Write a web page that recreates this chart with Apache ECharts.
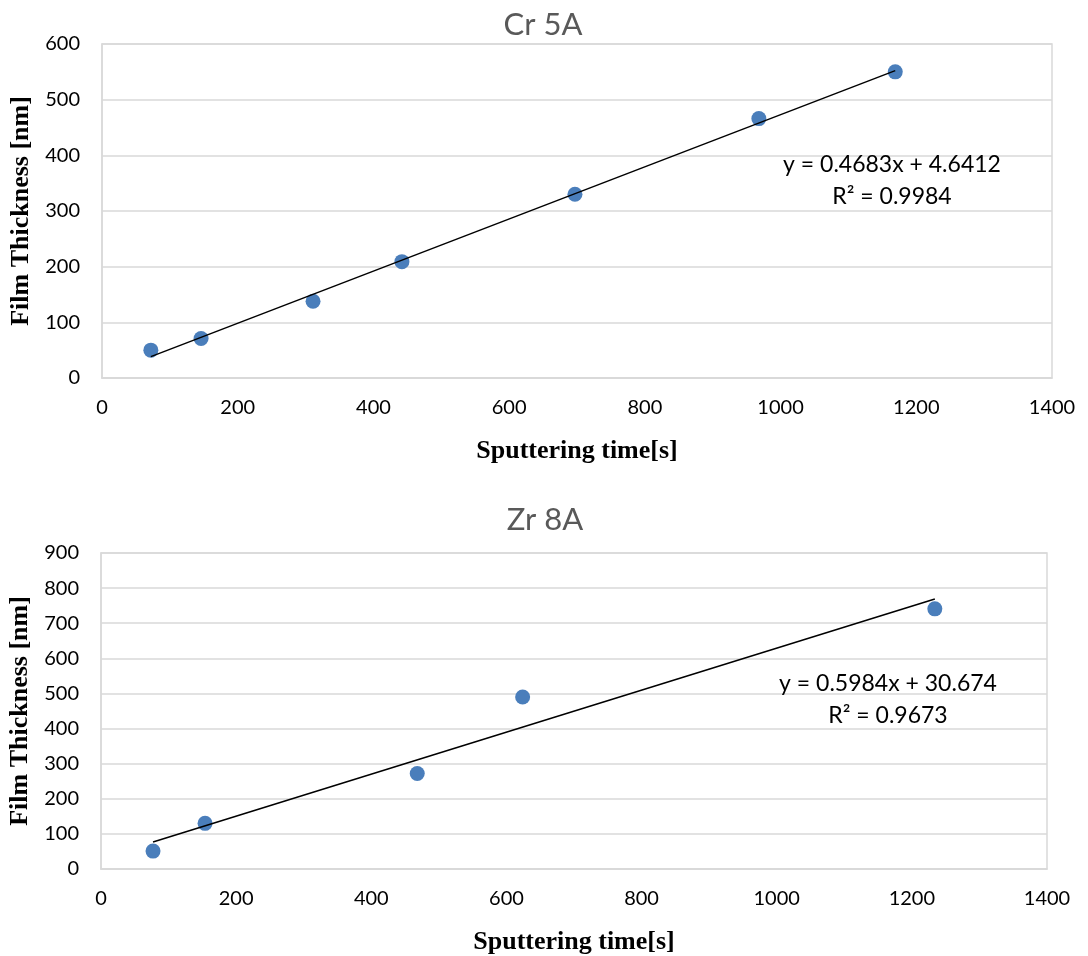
<!DOCTYPE html>
<html>
<head>
<meta charset="utf-8">
<script src="https://cdn.jsdelivr.net/npm/echarts@6/dist/echarts.min.js"></script>
<style>html,body{margin:0;padding:0;background:#fff}#c{width:1088px;height:956px}</style>
</head>
<body>
<div id="c"></div>
<script>
// ---- data ----
const crTime = [72, 146, 311, 442, 697, 968, 1169];
const crThickness = [50, 71, 138, 209, 330, 466, 550];
const crFit = [0.4683, 4.6412];       // slope, intercept
const crR2 = '0.9984';

const zrTime = [77, 154, 468, 624, 1234];
const zrThickness = [51, 130, 272, 490, 741];
const zrFit = [0.5984, 30.674];
const zrR2 = '0.9673';

const xTicks = [0, 1400, 200];
const crYTicks = [0, 600, 100];
const zrYTicks = [0, 900, 100];

const titles = ['Cr 5A', 'Zr 8A'];
const xName = 'Sputtering time[s]';
const yName = 'Film Thickness [nm]';

// ---- build ----
const pts = (xs, ys) => xs.map((x, i) => [x, ys[i]]);
const fitLine = (xs, f) => {
  const a = Math.min(...xs), b = Math.max(...xs);
  return [[a, f[0] * a + f[1]], [b, f[0] * b + f[1]]];
};
const eq = f => 'y = ' + f[0] + 'x + ' + f[1];

const sans = 'Lato, "Open Sans", sans-serif';
const serif = '"Liberation Serif", "DejaVu Serif", serif';
const gridColor = '#d9d9d9';
const blue = '#4a7ebb';

function xAxis(gi) {
  return {
    type: 'value', gridIndex: gi, min: xTicks[0], max: xTicks[1], interval: xTicks[2],
    name: xName, nameLocation: 'middle', nameGap: 60,
    nameTextStyle: { fontFamily: serif, fontWeight: 'bold', fontSize: 26, color: '#000' },
    axisLine: { show: true, lineStyle: { color: gridColor, width: 1.5 } },
    axisTick: { show: false },
    splitLine: { show: false },
    axisLabel: { fontFamily: sans, fontSize: 20, color: '#000', margin: 20, formatter: v => String(v) }
  };
}
function yAxis(gi, t) {
  return {
    type: 'value', gridIndex: gi, min: t[0], max: t[1], interval: t[2],
    name: yName, nameLocation: 'middle', nameGap: 66, nameRotate: 90,
    nameTextStyle: { fontFamily: serif, fontWeight: 'bold', fontSize: 26, color: '#000' },
    axisLine: { show: true, lineStyle: { color: gridColor, width: 1.5 } },
    axisTick: { show: false },
    splitLine: { show: true, lineStyle: { color: gridColor, width: 1.5 } },
    axisLabel: { fontFamily: sans, fontSize: 20, color: '#000', margin: 22, formatter: v => String(v) }
  };
}

const option = {
  animation: false,
  backgroundColor: '#fff',
  title: [
    { text: titles[0], left: 538, top: 4, textAlign: 'center',
      textStyle: { fontFamily: sans, fontWeight: 'normal', fontSize: 31, color: '#595959' } },
    { text: titles[1], left: 540, top: 499, textAlign: 'center',
      textStyle: { fontFamily: sans, fontWeight: 'normal', fontSize: 31, color: '#595959' } }
  ],
  grid: [
    { left: 102, top: 44, width: 950, height: 334, show: true, borderColor: gridColor, borderWidth: 1.5,
      containLabel: false, outerBoundsMode: 'none' },
    { left: 101, top: 553, width: 946, height: 316, show: true, borderColor: gridColor, borderWidth: 1.5,
      containLabel: false, outerBoundsMode: 'none' }
  ],
  xAxis: [xAxis(0), xAxis(1)],
  yAxis: [yAxis(0, crYTicks), yAxis(1, zrYTicks)],
  series: [
    { type: 'scatter', xAxisIndex: 0, yAxisIndex: 0, data: pts(crTime, crThickness),
      symbolSize: 15, itemStyle: { color: blue, opacity: 1 }, z: 3 },
    { type: 'line', xAxisIndex: 0, yAxisIndex: 0, data: fitLine(crTime, crFit),
      symbol: 'none', lineStyle: { color: '#000', width: 1.5 }, z: 4 },
    { type: 'scatter', xAxisIndex: 1, yAxisIndex: 1, data: pts(zrTime, zrThickness),
      symbolSize: 15, itemStyle: { color: blue, opacity: 1 }, z: 3 },
    { type: 'line', xAxisIndex: 1, yAxisIndex: 1, data: fitLine(zrTime, zrFit),
      symbol: 'none', lineStyle: { color: '#000', width: 1.5 }, z: 4 }
  ],
  graphic: [
    { type: 'text', x: 892, y: 149, z: 10,
      style: { text: eq(crFit) + '\nR² = ' + crR2, align: 'center', font: '23px ' + sans,
               fill: '#000', lineHeight: 32 } },
    { type: 'text', x: 888, y: 668, z: 10,
      style: { text: eq(zrFit) + '\nR² = ' + zrR2, align: 'center', font: '23px ' + sans,
               fill: '#000', lineHeight: 32 } }
  ]
};

const chart = echarts.init(document.getElementById('c'), null, { renderer: 'canvas' });
chart.setOption(option);
</script>
</body>
</html>
